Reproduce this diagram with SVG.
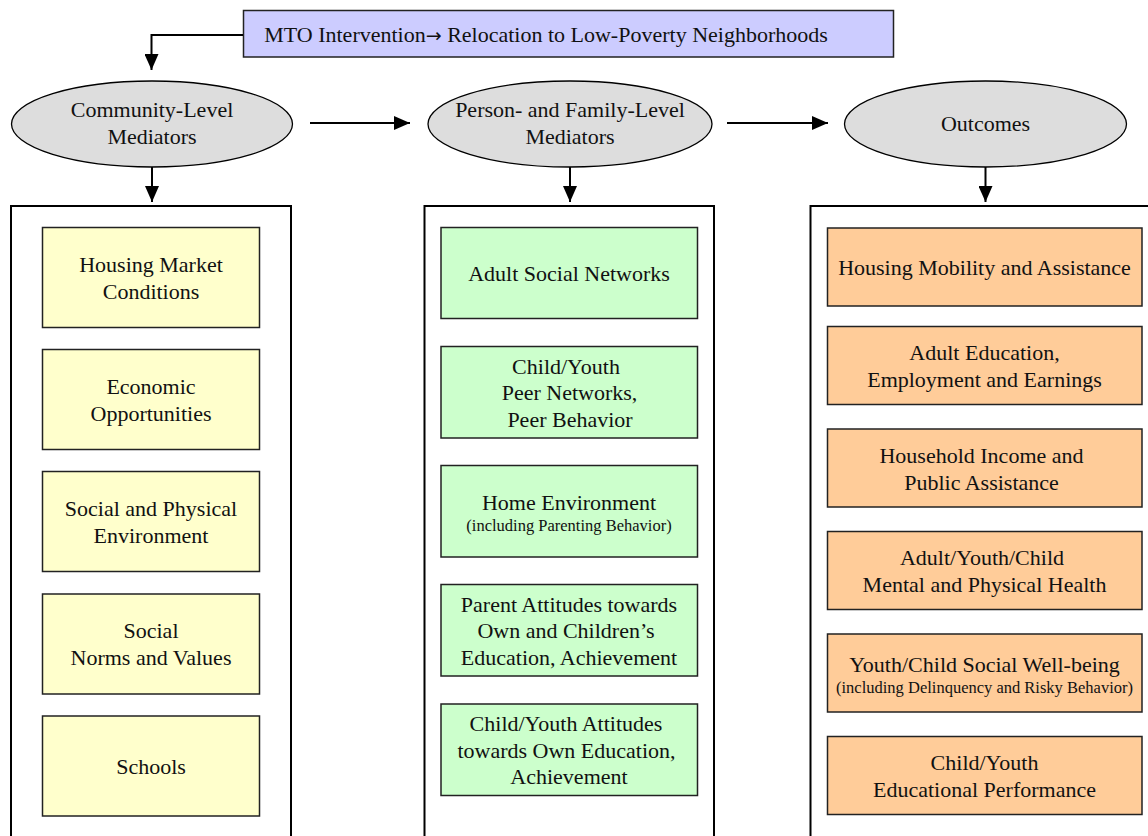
<svg xmlns="http://www.w3.org/2000/svg" width="1148" height="836" viewBox="0 0 1148 836">
<style>
text{font-family:"Liberation Serif","Times New Roman",serif;font-size:22px;fill:#111;text-anchor:middle}
.s{font-size:16.5px}
.ar{font-family:"DejaVu Sans",sans-serif;font-size:19px}
.c{fill:#fff;stroke:#000;stroke-width:2}
.y{fill:#ffffcc;stroke:#222;stroke-width:1.5}
.g{fill:#ccffcc;stroke:#222;stroke-width:1.5}
.o{fill:#ffcc99;stroke:#222;stroke-width:1.5}
.e{fill:#dddddd;stroke:#000;stroke-width:1.3}
.ln{fill:none;stroke:#000;stroke-width:2}
</style>
<defs>
<marker id="ah" markerUnits="userSpaceOnUse" markerWidth="16" markerHeight="14" refX="16" refY="7" orient="auto">
<path d="M0,0 L16,7 L0,14 z" fill="#000"/>
</marker>
</defs>
<rect width="1148" height="836" fill="#fff"/>
<g id="containers">
<rect class="c" x="11" y="206" width="280" height="650"/>
<rect class="c" x="424.5" y="206" width="289.5" height="650"/>
<rect class="c" x="810.5" y="206" width="360" height="650"/>
</g>
<g id="intervention">
<rect x="243.5" y="10.5" width="650" height="46.5" fill="#ccccff" stroke="#222" stroke-width="1.5"/>
<text x="546" y="42">MTO Intervention<tspan class="ar">→</tspan> Relocation to Low-Poverty Neighborhoods</text>
</g>
<g id="community">
<ellipse class="e" cx="152" cy="124" rx="140.5" ry="43"/>
<text x="152" y="117">Community-Level</text>
<text x="152" y="144">Mediators</text>
</g>
<g id="person">
<ellipse class="e" cx="570" cy="124" rx="142" ry="43"/>
<text x="570" y="117">Person- and Family-Level</text>
<text x="570" y="144">Mediators</text>
</g>
<g id="outcomes">
<ellipse class="e" cx="985.5" cy="124" rx="141" ry="43"/>
<text x="985.5" y="131">Outcomes</text>
</g>
<g id="connectors">
<path class="ln" d="M243,35 H151.5 V70" marker-end="url(#ah)"/>
<path class="ln" d="M310,123 H410" marker-end="url(#ah)"/>
<path class="ln" d="M727,123 H828" marker-end="url(#ah)"/>
<path class="ln" d="M152,167 V202" marker-end="url(#ah)"/>
<path class="ln" d="M570,167 V202" marker-end="url(#ah)"/>
<path class="ln" d="M985.5,167 V202" marker-end="url(#ah)"/>
</g>
<g id="c1">
<rect class="y" x="42.5" y="227.5" width="217" height="100"/>
<text x="151" y="271.5">Housing Market</text>
<text x="151" y="298.5">Conditions</text>
</g>
<g id="c2">
<rect class="y" x="42.5" y="349.5" width="217" height="100"/>
<text x="151" y="393.5">Economic</text>
<text x="151" y="420.5">Opportunities</text>
</g>
<g id="c3">
<rect class="y" x="42.5" y="471.5" width="217" height="100"/>
<text x="151" y="515.5">Social and Physical</text>
<text x="151" y="542.5">Environment</text>
</g>
<g id="c4">
<rect class="y" x="42.5" y="594" width="217" height="100"/>
<text x="151" y="638">Social</text>
<text x="151" y="665">Norms and Values</text>
</g>
<g id="c5">
<rect class="y" x="42.5" y="716" width="217" height="100"/>
<text x="151" y="774">Schools</text>
</g>
<g id="p1">
<rect class="g" x="441" y="227.5" width="256.5" height="91"/>
<text x="569" y="281">Adult Social Networks</text>
</g>
<g id="p2">
<rect class="g" x="441" y="346.5" width="256.5" height="91.5"/>
<text x="566" y="373.5">Child/Youth</text>
<text x="569.5" y="400">Peer Networks,</text>
<text x="570" y="426.5"> Peer Behavior</text>
</g>
<g id="p3">
<rect class="g" x="441" y="465.5" width="256.5" height="91.5"/>
<text x="569" y="509.5">Home Environment</text>
<text class="s" x="569" y="530.5">(including Parenting Behavior)</text>
</g>
<g id="p4">
<rect class="g" x="441" y="584.5" width="256.5" height="91.5"/>
<text x="569" y="611.5">Parent Attitudes towards</text>
<text x="566" y="638">Own and Children’s</text>
<text x="569" y="664.5">Education, Achievement</text>
</g>
<g id="p5">
<rect class="g" x="441" y="704" width="256.5" height="91.5"/>
<text x="566" y="731">Child/Youth Attitudes</text>
<text x="566.5" y="757.5">towards Own Education,</text>
<text x="569" y="784">Achievement</text>
</g>
<g id="o1">
<rect class="o" x="827.5" y="228" width="314.5" height="78"/>
<text x="984.5" y="274.5">Housing Mobility and Assistance</text>
</g>
<g id="o2">
<rect class="o" x="827.5" y="326.5" width="314.5" height="78"/>
<text x="984.5" y="360">Adult Education,</text>
<text x="984.5" y="387">Employment and Earnings</text>
</g>
<g id="o3">
<rect class="o" x="827.5" y="429" width="314.5" height="78"/>
<text x="981.5" y="462.5">Household Income and</text>
<text x="981.5" y="489.5">Public Assistance</text>
</g>
<g id="o4">
<rect class="o" x="827.5" y="531.5" width="314.5" height="78"/>
<text x="982" y="565">Adult/Youth/Child</text>
<text x="984.5" y="592">Mental and Physical Health</text>
</g>
<g id="o5">
<rect class="o" x="827.5" y="634" width="314.5" height="78"/>
<text x="984.5" y="672">Youth/Child Social Well-being</text>
<text class="s" x="984.5" y="693">(including Delinquency and Risky Behavior)</text>
</g>
<g id="o6">
<rect class="o" x="827.5" y="736.5" width="314.5" height="78"/>
<text x="984.5" y="770">Child/Youth</text>
<text x="984.5" y="797">Educational Performance</text>
</g>
</svg>
